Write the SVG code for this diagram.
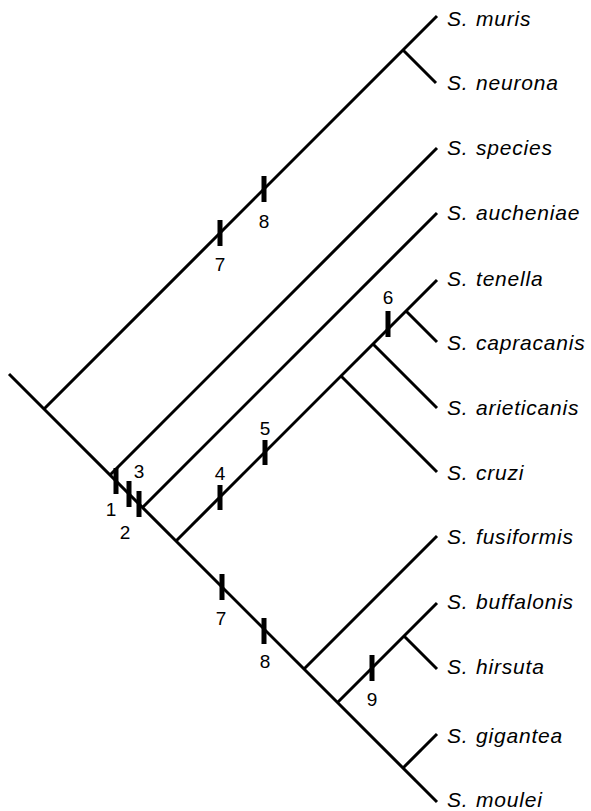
<svg xmlns="http://www.w3.org/2000/svg" width="591" height="811" viewBox="0 0 591 811">
<style>
.br{stroke:#000;stroke-width:3;fill:none;stroke-linecap:butt}
.mk{stroke:#000;stroke-width:5;fill:none}
.tx{font-family:"Liberation Sans",Arial,sans-serif;font-style:italic;font-size:21px;fill:#000;letter-spacing:0.8px}
.nm{font-family:"Liberation Sans",Arial,sans-serif;font-size:19px;fill:#000;text-anchor:middle}
</style>
<rect width="591" height="811" fill="#fff"/>
<g id="connectors">
<path class="br" d="M9,374 L437,802"/>
<path class="br" d="M44,409 L403,50 L437,16 M403,50 L436,83"/>
<path class="br" d="M110,475 L437,148"/>
<path class="br" d="M142.5,507.5 L437,213"/>
<path class="br" d="M176,541 L437,280"/>
<path class="br" d="M341,376 L437,472"/>
<path class="br" d="M373,344 L437,408"/>
<path class="br" d="M406,311 L437,342"/>
<path class="br" d="M304,669 L437,536"/>
<path class="br" d="M337.5,702.5 L404,636 L437,603 M404,636 L437,669"/>
<path class="br" d="M403,768 L437,734"/>
</g>
<g id="markers">
<path class="mk" d="M220,220 v26 M264,176 v26 M116,468 v26 M129,481 v26 M139,491 v26 M220,485 v25 M265,440 v25 M388,311 v26 M222,574 v26 M264,618 v26 M372,655 v26"/>
<text class="nm" x="220" y="271">7</text>
<text class="nm" x="264" y="228">8</text>
<text class="nm" x="111" y="516">1</text>
<text class="nm" x="125" y="539">2</text>
<text class="nm" x="139" y="478">3</text>
<text class="nm" x="220" y="480">4</text>
<text class="nm" x="265" y="435">5</text>
<text class="nm" x="388" y="304">6</text>
<text class="nm" x="221" y="625">7</text>
<text class="nm" x="265" y="668">8</text>
<text class="nm" x="372" y="706">9</text>
</g>
<g id="n-muris"><text class="tx" x="447" y="26">S.<tspan x="476">muris</tspan></text></g>
<g id="n-neurona"><text class="tx" x="447" y="90">S.<tspan x="476">neurona</tspan></text></g>
<g id="n-species"><text class="tx" x="447" y="155">S.<tspan x="476">species</tspan></text></g>
<g id="n-aucheniae"><text class="tx" x="447" y="220">S.<tspan x="476">aucheniae</tspan></text></g>
<g id="n-tenella"><text class="tx" x="447" y="286">S.<tspan x="476">tenella</tspan></text></g>
<g id="n-capracanis"><text class="tx" x="447" y="350">S.<tspan x="476">capracanis</tspan></text></g>
<g id="n-arieticanis"><text class="tx" x="447" y="415">S.<tspan x="476">arieticanis</tspan></text></g>
<g id="n-cruzi"><text class="tx" x="447" y="480">S.<tspan x="476">cruzi</tspan></text></g>
<g id="n-fusiformis"><text class="tx" x="447" y="544">S.<tspan x="476">fusiformis</tspan></text></g>
<g id="n-buffalonis"><text class="tx" x="447" y="609">S.<tspan x="476">buffalonis</tspan></text></g>
<g id="n-hirsuta"><text class="tx" x="447" y="674">S.<tspan x="476">hirsuta</tspan></text></g>
<g id="n-gigantea"><text class="tx" x="447" y="743">S.<tspan x="476">gigantea</tspan></text></g>
<g id="n-moulei"><text class="tx" x="447" y="807">S.<tspan x="476">moulei</tspan></text></g>
</svg>
